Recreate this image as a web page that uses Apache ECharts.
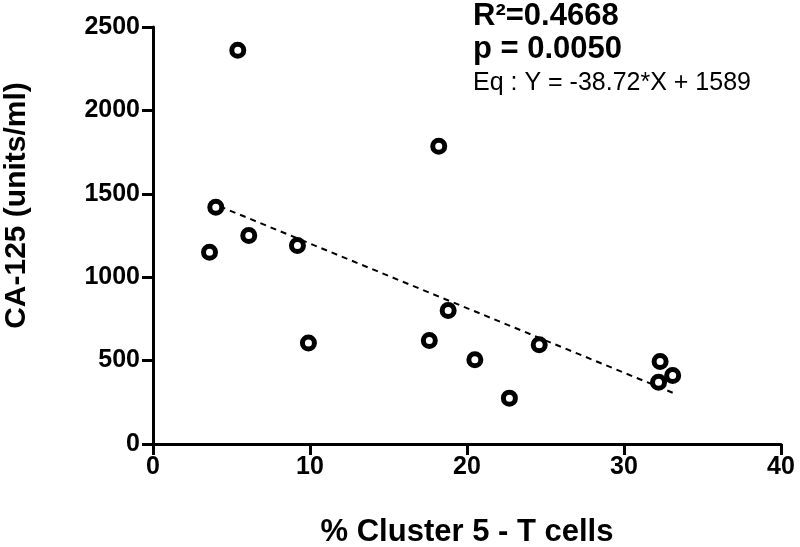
<!DOCTYPE html>
<html>
<head>
<meta charset="utf-8">
<script src="https://cdn.jsdelivr.net/npm/echarts@6/dist/echarts.min.js"></script>
<style>html,body{margin:0;padding:0;background:#fff}#c{width:800px;height:547px}</style>
</head>
<body>
<div id="c"></div>
<script>
const xValues = [3.6, 4.0, 5.4, 6.1, 9.2, 9.9, 17.6, 18.2, 18.8, 20.5, 22.7, 24.6, 32.3, 32.2, 33.1];
const yValues = [1150, 1420, 2360, 1250, 1190, 605, 620, 1785, 800, 505, 275, 595, 495, 370, 410];
const slope = -38.72;
const intercept = 1589;
const xTicks = [0, 10, 20, 30, 40];
const yTicks = [0, 500, 1000, 1500, 2000, 2500];
const statTexts = ['R\u00B2=0.4668', 'p = 0.0050', 'Eq : Y = -38.72*X + 1589'];

const pts = xValues.map((x, i) => [x, yValues[i]]);
const xMin = Math.min(...xValues), xMax = Math.max(...xValues);
const fitLine = [[xMin, slope * xMin + intercept], [xMax, slope * xMax + intercept]];

const font = 'Liberation Sans, Arial, sans-serif';
const chart = echarts.init(document.getElementById('c'), null, {renderer: 'canvas'});
chart.setOption({
  animation: false,
  backgroundColor: '#fff',
  grid: {left: 153, right: 19, top: 27, bottom: 103, containLabel: false, outerBoundsMode: 'none'},
  xAxis: {
    type: 'value', min: xTicks[0], max: xTicks[xTicks.length - 1], interval: 10,
    name: '% Cluster 5 - T cells', nameLocation: 'middle', nameGap: 73,
    nameTextStyle: {fontFamily: font, fontWeight: 'bold', fontSize: 31, color: '#000'},
    axisLine: {show: true, onZero: false, lineStyle: {color: '#000', width: 3}},
    axisTick: {show: true, length: 11, lineStyle: {color: '#000', width: 3}},
    axisLabel: {margin: 11, fontFamily: font, fontWeight: 'bold', fontSize: 25, color: '#000'},
    splitLine: {show: false}
  },
  yAxis: {
    type: 'value', min: yTicks[0], max: yTicks[yTicks.length - 1], interval: 500,
    name: 'CA-125 (units/ml)', nameLocation: 'middle', nameGap: 121,
    nameTextStyle: {fontFamily: font, fontWeight: 'bold', fontSize: 30, color: '#000', padding: [0, 0, 0, 60]},
    axisLine: {show: true, onZero: false, lineStyle: {color: '#000', width: 3}},
    axisTick: {show: true, length: 11, lineStyle: {color: '#000', width: 3}},
    axisLabel: {margin: 13, fontFamily: font, fontWeight: 'bold', fontSize: 25, color: '#000',
      formatter: v => String(v)},
    splitLine: {show: false}
  },
  series: [
    {
      type: 'line', data: fitLine, symbol: 'none', z: 1,
      lineStyle: {color: '#000', width: 2, type: [6, 5]}
    },
    {
      type: 'scatter', data: pts, symbol: 'circle', symbolSize: 12, z: 3,
      itemStyle: {color: '#fff', borderColor: '#000', borderWidth: 5, opacity: 1}
    }
  ],
  graphic: [
    {type: 'text', x: 473, y: 16, style: {text: statTexts[0], font: 'bold 31px ' + font, fill: '#000', verticalAlign: 'middle'}},
    {type: 'text', x: 473, y: 49, style: {text: statTexts[1], font: 'bold 31px ' + font, fill: '#000', verticalAlign: 'middle'}},
    {type: 'text', x: 473, y: 83, style: {text: statTexts[2], font: '25px ' + font, fill: '#000', verticalAlign: 'middle'}}
  ]
});
</script>
</body>
</html>
